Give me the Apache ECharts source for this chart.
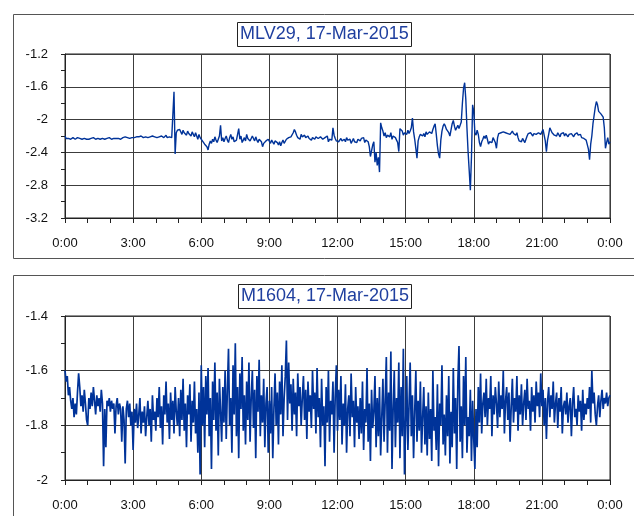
<!DOCTYPE html>
<html><head><meta charset="utf-8">
<script src="https://cdn.jsdelivr.net/npm/echarts@6/dist/echarts.min.js"></script>
<style>html,body{margin:0;padding:0;background:#fff}#c{width:634px;height:516px}</style>
</head><body><div id="c"></div>
<script>
// Titles
var titleTop = "MLV29, 17-Mar-2015";
var titleBottom = "M1604, 17-Mar-2015";
// Hour tick labels (every 3 hours)
var hourTicks = [0,3,6,9,12,15,18,21,24];
// MLV29 values, sampled every 0.05 h from 0:00 to 24:00 (one row per hour)
var stepTop = 0.05;
var mlv29 = [
-2.20,-2.23,-2.24,-2.23,-2.23,-2.24,-2.24,-2.22,-2.23,-2.24,-2.23,-2.22,-2.24,-2.23,-2.23,-2.24,-2.22,-2.23,-2.23,-2.24,
-2.23,-2.24,-2.24,-2.23,-2.23,-2.22,-2.23,-2.24,-2.24,-2.23,-2.23,-2.24,-2.22,-2.23,-2.23,-2.24,-2.24,-2.23,-2.23,-2.22,
-2.23,-2.24,-2.23,-2.23,-2.24,-2.23,-2.22,-2.23,-2.23,-2.24,-2.24,-2.22,-2.22,-2.21,-2.21,-2.22,-2.22,-2.23,-2.23,-2.22,
-2.21,-2.22,-2.21,-2.21,-2.22,-2.21,-2.21,-2.20,-2.21,-2.22,-2.20,-2.21,-2.21,-2.22,-2.22,-2.21,-2.21,-2.20,-2.20,-2.21,
-2.21,-2.22,-2.20,-2.21,-2.22,-2.20,-2.21,-2.22,-2.20,-2.19,-2.22,-2.21,-2.21,-2.20,-2.22,-2.21,-1.66,-2.42,-2.16,-2.13,
-2.15,-2.12,-2.14,-2.18,-2.13,-2.16,-2.15,-2.19,-2.14,-2.17,-2.17,-2.20,-2.15,-2.18,-2.21,-2.16,-2.20,-2.24,-2.18,-2.22,
-2.22,-2.26,-2.24,-2.30,-2.28,-2.33,-2.37,-2.30,-2.26,-2.29,-2.24,-2.27,-2.21,-2.25,-2.28,-2.24,-2.20,-2.07,-2.26,-2.22,
-2.27,-2.23,-2.20,-2.25,-2.28,-2.22,-2.18,-2.24,-2.21,-2.27,-2.29,-2.25,-2.18,-2.11,-2.24,-2.20,-2.28,-2.25,-2.22,-2.26,
-2.18,-2.23,-2.21,-2.26,-2.24,-2.20,-2.23,-2.26,-2.21,-2.25,-2.28,-2.24,-2.22,-2.27,-2.33,-2.29,-2.30,-2.26,-2.28,-2.24,
-2.26,-2.29,-2.25,-2.27,-2.30,-2.26,-2.24,-2.28,-2.31,-2.27,-2.32,-2.28,-2.25,-2.29,-2.27,-2.24,-2.26,-2.22,-2.24,-2.21,
-2.19,-2.16,-2.12,-2.15,-2.19,-2.22,-2.20,-2.24,-2.18,-2.21,-2.23,-2.19,-2.22,-2.24,-2.20,-2.23,-2.21,-2.25,-2.22,-2.20,
-2.24,-2.21,-2.19,-2.23,-2.25,-2.21,-2.22,-2.24,-2.26,-2.22,-2.24,-2.20,-2.27,-2.24,-2.22,-2.25,-2.10,-2.19,-2.23,-2.26,
-2.24,-2.27,-2.25,-2.23,-2.26,-2.28,-2.24,-2.27,-2.22,-2.25,-2.27,-2.24,-2.29,-2.26,-2.23,-2.27,-2.25,-2.28,-2.24,-2.26,
-2.26,-2.23,-2.25,-2.22,-2.28,-2.25,-2.24,-2.27,-2.33,-2.45,-2.38,-2.31,-2.27,-2.52,-2.40,-2.56,-2.46,-2.64,-2.04,-2.10,
-2.14,-2.20,-2.16,-2.22,-2.19,-2.17,-2.21,-2.16,-2.24,-2.20,-2.18,-2.22,-2.25,-2.28,-2.39,-2.11,-2.09,-2.14,-2.19,-2.16,
-2.15,-2.18,-2.13,-2.17,-2.14,-2.10,-1.98,-2.15,-2.24,-2.35,-2.47,-2.26,-2.21,-2.18,-2.16,-2.20,-2.17,-2.21,-2.15,-2.18,
-2.18,-2.15,-2.13,-2.17,-2.12,-2.08,-2.05,-2.18,-2.32,-2.42,-2.47,-2.25,-2.14,-2.08,-2.05,-2.08,-2.12,-2.10,-2.16,-2.20,
-2.22,-2.05,-2.01,-2.08,-2.13,-2.10,-2.07,-2.11,-2.09,-2.03,-1.80,-1.62,-1.55,-1.75,-2.10,-2.39,-2.62,-2.86,-2.45,-1.82,
-1.90,-2.16,-2.19,-2.13,-2.18,-2.28,-2.33,-2.27,-2.24,-2.20,-2.23,-2.19,-2.24,-2.30,-2.27,-2.25,-2.28,-2.22,-2.20,-2.28,
-2.35,-2.22,-2.17,-2.19,-2.16,-2.18,-2.15,-2.17,-2.16,-2.14,-2.17,-2.15,-2.18,-2.16,-2.14,-2.17,-2.15,-2.19,-2.16,-2.22,
-2.26,-2.24,-2.27,-2.23,-2.25,-2.28,-2.24,-2.20,-2.17,-2.19,-2.16,-2.18,-2.20,-2.17,-2.15,-2.18,-2.19,-2.16,-2.17,-2.18,
-2.19,-2.12,-2.11,-2.26,-2.39,-2.25,-2.18,-2.10,-2.13,-2.16,-2.15,-2.19,-2.17,-2.20,-2.16,-2.18,-2.21,-2.17,-2.19,-2.16,
-2.20,-2.17,-2.19,-2.21,-2.18,-2.20,-2.17,-2.19,-2.21,-2.18,-2.20,-2.16,-2.19,-2.21,-2.18,-2.22,-2.20,-2.23,-2.21,-2.25,
-2.26,-2.36,-2.49,-2.30,-2.20,-2.05,-1.95,-1.85,-1.78,-1.82,-1.90,-1.91,-1.93,-1.95,-1.97,-2.10,-2.35,-2.28,-2.22,-2.30,
-2.27
];
// M1604 values, sampled every 0.05 h from 0:00 to 24:00 (one row per hour)
var stepBottom = 0.05;
var m1604 = [
-1.60,-1.64,-1.62,-1.69,-1.66,-1.71,-1.74,-1.70,-1.77,-1.72,-1.76,-1.68,-1.61,-1.66,-1.73,-1.69,-1.75,-1.67,-1.72,-1.78,
-1.80,-1.70,-1.74,-1.68,-1.73,-1.66,-1.71,-1.76,-1.69,-1.73,-1.70,-1.75,-1.67,-1.72,-1.95,-1.74,-1.88,-1.71,-1.73,-1.70,
-1.75,-1.71,-1.74,-1.72,-1.83,-1.73,-1.70,-1.76,-1.72,-1.74,-1.86,-1.73,-1.78,-1.94,-1.74,-1.71,-1.77,-1.72,-1.80,-1.75,
-1.89,-1.74,-1.79,-1.72,-1.81,-1.76,-1.70,-1.83,-1.75,-1.79,-1.73,-1.84,-1.77,-1.71,-1.80,-1.74,-1.86,-1.69,-1.78,-1.75,
-1.82,-1.70,-1.77,-1.66,-1.81,-1.73,-1.87,-1.69,-1.76,-1.64,-1.79,-1.72,-1.85,-1.68,-1.78,-1.71,-1.83,-1.66,-1.75,-1.80,
-1.70,-1.84,-1.67,-1.78,-1.63,-1.82,-1.72,-1.88,-1.69,-1.76,-1.65,-1.86,-1.71,-1.79,-1.64,-1.83,-1.74,-1.90,-1.68,-1.98,
-1.58,-1.80,-1.66,-1.88,-1.62,-1.76,-1.59,-1.84,-1.70,-1.96,-1.64,-1.78,-1.57,-1.82,-1.68,-1.91,-1.63,-1.75,-1.86,-1.66,
-1.79,-1.60,-1.85,-1.67,-1.52,-1.80,-1.70,-1.90,-1.58,-1.76,-1.50,-1.84,-1.66,-1.92,-1.61,-1.74,-1.55,-1.82,-1.69,-1.87,
-1.64,-1.78,-1.57,-1.86,-1.70,-1.60,-1.81,-1.67,-1.92,-1.62,-1.75,-1.56,-1.84,-1.69,-1.79,-1.63,-1.88,-1.72,-1.66,-1.90,
-1.71,-1.83,-1.66,-1.92,-1.74,-1.61,-1.80,-1.68,-1.87,-1.64,-1.76,-1.58,-1.84,-1.70,-1.62,-1.49,-1.78,-1.57,-1.72,-1.65,
-1.82,-1.63,-1.76,-1.68,-1.84,-1.61,-1.73,-1.66,-1.80,-1.70,-1.62,-1.78,-1.67,-1.85,-1.64,-1.75,-1.69,-1.81,-1.60,-1.74,
-1.68,-1.83,-1.59,-1.77,-1.70,-1.88,-1.63,-1.80,-1.73,-1.95,-1.66,-1.79,-1.60,-1.86,-1.71,-1.76,-1.64,-1.90,-1.69,-1.58,
-1.82,-1.67,-1.78,-1.62,-1.87,-1.72,-1.80,-1.65,-1.90,-1.74,-1.69,-1.84,-1.61,-1.77,-1.71,-1.88,-1.66,-1.79,-1.73,-1.85,
-1.70,-1.83,-1.64,-1.89,-1.74,-1.79,-1.59,-1.86,-1.72,-1.93,-1.67,-1.81,-1.75,-1.62,-1.88,-1.70,-1.84,-1.66,-1.91,-1.77,
-1.63,-1.86,-1.71,-1.55,-1.90,-1.68,-1.82,-1.53,-1.96,-1.74,-1.60,-1.88,-1.70,-1.79,-1.57,-1.92,-1.66,-1.84,-1.52,-1.98,
-1.80,-1.62,-1.89,-1.73,-1.57,-1.84,-1.69,-1.92,-1.75,-1.60,-1.86,-1.71,-1.82,-1.64,-1.90,-1.77,-1.66,-1.87,-1.73,-1.91,
-1.68,-1.85,-1.74,-1.93,-1.60,-1.82,-1.77,-1.89,-1.65,-1.95,-1.72,-1.80,-1.58,-1.87,-1.76,-1.91,-1.69,-1.84,-1.62,-1.94,
-1.75,-1.88,-1.59,-1.83,-1.70,-1.96,-1.64,-1.51,-1.86,-1.73,-1.92,-1.62,-1.80,-1.55,-1.90,-1.77,-1.84,-1.67,-1.93,-1.71,
-1.85,-1.96,-1.74,-1.88,-1.66,-1.79,-1.61,-1.83,-1.72,-1.68,-1.77,-1.63,-1.80,-1.70,-1.74,-1.62,-1.84,-1.69,-1.76,-1.66,
-1.72,-1.81,-1.64,-1.77,-1.69,-1.74,-1.60,-1.83,-1.71,-1.66,-1.78,-1.68,-1.86,-1.73,-1.63,-1.79,-1.70,-1.75,-1.62,-1.82,
-1.69,-1.76,-1.65,-1.80,-1.72,-1.67,-1.78,-1.63,-1.74,-1.71,-1.82,-1.66,-1.75,-1.69,-1.79,-1.64,-1.73,-1.68,-1.77,-1.61,
-1.73,-1.67,-1.80,-1.70,-1.85,-1.71,-1.66,-1.77,-1.69,-1.74,-1.64,-1.79,-1.72,-1.68,-1.81,-1.70,-1.75,-1.66,-1.83,-1.73,
-1.71,-1.76,-1.68,-1.79,-1.73,-1.70,-1.84,-1.72,-1.66,-1.77,-1.74,-1.80,-1.69,-1.75,-1.71,-1.82,-1.67,-1.78,-1.72,-1.76,
-1.70,-1.74,-1.66,-1.79,-1.60,-1.72,-1.68,-1.76,-1.80,-1.73,-1.69,-1.77,-1.71,-1.67,-1.74,-1.70,-1.72,-1.68,-1.73,-1.70,
-1.69
];
// Y ranges
var topRange = {min: -3.2, max: -1.2, interval: 0.4};
var bottomRange = {min: -2.0, max: -1.4, interval: 0.2};

function pairs(vals, step) {
  return vals.map(function (v, i) { return [+(i * step).toFixed(3), v]; });
}
var FONT = 'Liberation Sans, Arial, sans-serif';
var LINE = '#003399';
var GRIDC = '#3c3c3c';
function xAx(gi) {
  return {
    type: 'value', gridIndex: gi, min: hourTicks[0], max: hourTicks[hourTicks.length - 1], interval: 3,
    axisLine: {show: true, onZero: false, lineStyle: {color: '#222', width: 1}},
    axisTick: {show: true, inside: false, length: 5, lineStyle: {color: '#222'}},
    minorTick: {show: true, splitNumber: 3, length: 5, lineStyle: {color: '#222'}},
    splitLine: {show: true, lineStyle: {color: GRIDC, width: 1}},
    axisLabel: {margin: 19, fontSize: 13, fontFamily: FONT, color: '#111',
      formatter: function (v) { return (Math.round(v) % 24) + ':00'; }}
  };
}
function yAx(gi, r) {
  return {
    type: 'value', gridIndex: gi, min: r.min, max: r.max, interval: r.interval,
    axisLine: {show: true, onZero: false, lineStyle: {color: '#222', width: 1}},
    axisTick: {show: true, inside: false, length: 4, lineStyle: {color: '#222'}},
    minorTick: {show: true, splitNumber: 2, length: 4, lineStyle: {color: '#222'}},
    splitLine: {show: true, lineStyle: {color: GRIDC, width: 1}},
    axisLabel: {margin: 17, fontSize: 13, fontFamily: FONT, color: '#111',
      formatter: function (v) { return String(Math.round(v * 100) / 100); }}
  };
}
function ttl(text, left, top) {
  return {
    text: text, left: left, top: top,
    borderColor: '#222', borderWidth: 1, backgroundColor: '#fff',
    padding: [2, 3, 2, 3],
    textStyle: {fontFamily: FONT, fontSize: 18, fontWeight: 'normal', color: '#1f3f9f', lineHeight: 21}
  };
}
var chart = echarts.init(document.getElementById('c'), null, {renderer: 'canvas'});
chart.setOption({
  animation: false,
  backgroundColor: '#fff',
  graphic: [
    {type: 'rect', shape: {x: 13.5, y: 14.5, width: 640, height: 244}, style: {fill: 'none', stroke: '#555', lineWidth: 1}, z: 0},
    {type: 'rect', shape: {x: 13.5, y: 275.5, width: 640, height: 260}, style: {fill: 'none', stroke: '#555', lineWidth: 1}, z: 0}
  ],
  title: [ttl(titleTop, 237, 22), ttl(titleBottom, 238, 284)],
  grid: [
    {left: 65, top: 54, width: 545, height: 164, show: true, borderColor: '#222', borderWidth: 1},
    {left: 65, top: 316, width: 545, height: 164, show: true, borderColor: '#222', borderWidth: 1}
  ],
  xAxis: [xAx(0), xAx(1)],
  yAxis: [yAx(0, topRange), yAx(1, bottomRange)],
  series: [
    {type: 'line', xAxisIndex: 0, yAxisIndex: 0, data: pairs(mlv29, stepTop), showSymbol: false, symbol: 'none',
      lineStyle: {color: LINE, width: 1.4}, z: 3},
    {type: 'line', xAxisIndex: 1, yAxisIndex: 1, data: pairs(m1604, stepBottom), showSymbol: false, symbol: 'none',
      lineStyle: {color: LINE, width: 1.7}, z: 3}
  ]
});
</script></body></html>
